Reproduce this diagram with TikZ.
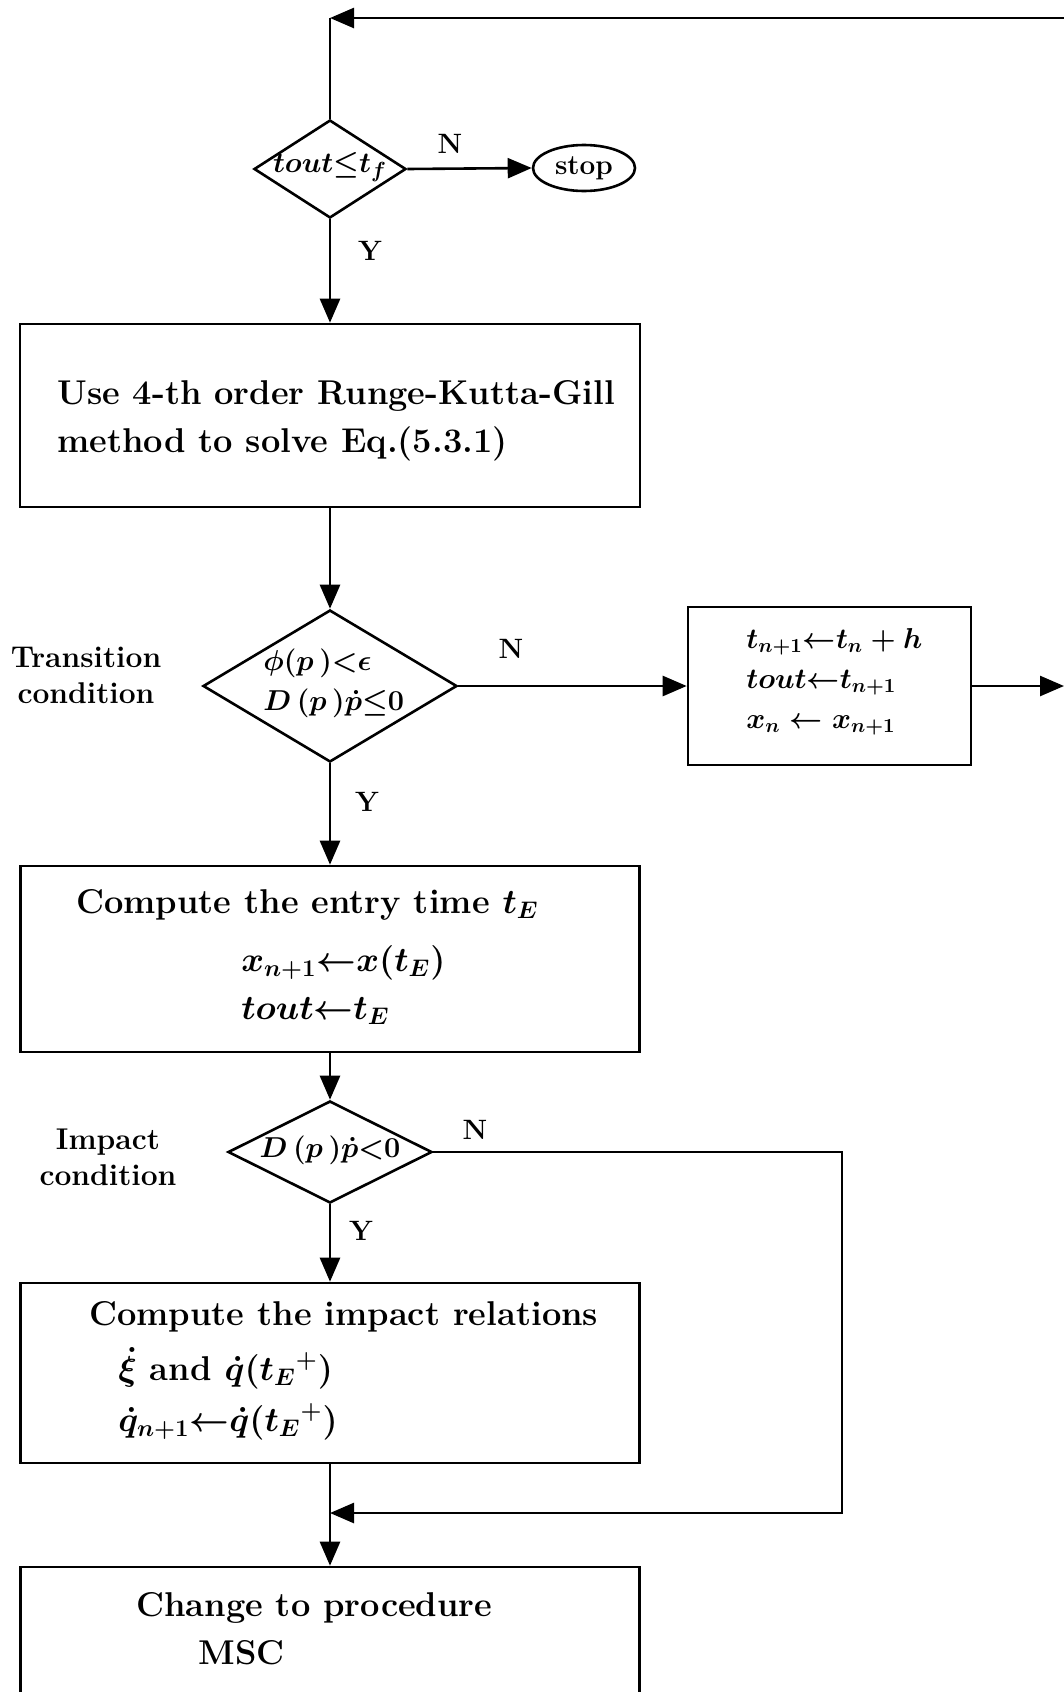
\documentclass[tikz,border=0pt]{standalone}
\usetikzlibrary{shapes.geometric,arrows.meta}
\begin{document}
\begin{tikzpicture}[x=0.5pt,y=-0.5pt,line width=1.3pt,
  box/.style={draw, rectangle, inner sep=0pt},
  dia/.style={draw, diamond, inner sep=0pt},
  arr/.style={-{Triangle[length=12pt,width=10pt]}},
  txt/.style={inner sep=0pt, font=\fontsize{17.2}{24}\selectfont\bfseries\boldmath},
  small/.style={inner sep=0pt, font=\fontsize{14}{20}\selectfont\bfseries\boldmath},
  dtxt/.style={inner sep=0pt, font=\fontsize{15.5}{18}\selectfont\bfseries\boldmath},
  lbl/.style={inner sep=0pt, font=\fontsize{14}{18}\selectfont\bfseries},
  side/.style={inner sep=0pt, font=\fontsize{15}{18}\selectfont\bfseries},
]
\useasboundingbox (0,0) rectangle (1064,1692);
\clip (0,0) rectangle (1064,1692);

% top decision
\node[dia, minimum width=76pt, minimum height=49pt] (d1) at (330,169) {};
\node[dtxt] (d1t) at (330,167) {$tout{\leq}t_f$};
\node[draw, ellipse, minimum width=51pt, minimum height=23pt, inner sep=0pt, lbl] (stop) at (584,168) {stop};
\node[lbl] (n1) at (450,144) {N};
\node[lbl] (y1) at (370,251) {Y};

% box 1
\node[box, minimum width=310pt, minimum height=91.5pt] (b1) at (330,415.5) {};
\node[txt, anchor=west, align=left] (b1t) at (56,421) {Use 4-th order Runge-Kutta-Gill\\method to solve Eq.(5.3.1)};

% transition decision
\node[dia, minimum width=127pt, minimum height=76pt] (d2) at (330,686) {};
\node[small, anchor=west, align=left] (d2t) at (262,683) {$\phi(p\,){<}\epsilon$\\$D\,(p\,)\dot p{\leq}0$};
\node[side, align=center] (tc) at (86,675) {Transition\\condition};
\node[lbl] (n2) at (511,649) {N};
\node[lbl] (y2) at (367,802) {Y};

% box 2
\node[box, minimum width=141.5pt, minimum height=79pt] (b2) at (829.5,686) {};
\node[small, anchor=west, align=left] (b2t) at (745,682) {$t_{n+1}{\leftarrow}t_n+h$\\$tout{\leftarrow}t_{n+1}$\\$x_n\leftarrow x_{n+1}$};

% box 3
\node[box, minimum width=309.5pt, minimum height=93pt] (b3) at (330,959) {};
\node[txt, anchor=west] (b3t) at (75,905) {Compute the entry time $t_E$};
\node[txt, anchor=west, align=left] (b3m) at (240,985) {$x_{n+1}{\leftarrow}x(t_E)$\\$tout{\leftarrow}t_E$};

% impact decision
\node[dia, minimum width=102pt, minimum height=51pt] (d3) at (330,1152) {};
\node[dtxt] (d3t) at (330,1150) {$D\,(p\,)\dot p{<}0$};
\node[side, align=center] (ic) at (108,1157) {Impact\\condition};
\node[lbl] (n3) at (475,1130) {N};
\node[lbl] (y3) at (361,1231) {Y};

% box 4
\node[box, minimum width=309.5pt, minimum height=90pt] (b4) at (330,1373) {};
\node[txt, anchor=west] (b4t) at (88,1317) {Compute the impact relations};
\node[inner sep=0pt, font=\fontsize{17.2}{25.5}\selectfont\bfseries\boldmath, anchor=west, align=left] (b4m) at (117,1394) {$\dot\xi$ and $\dot q(t_E{}^{+})$\\$\dot q_{n+1}{\leftarrow}\dot q(t_E{}^{+})$};

% box 5
\node[box, minimum width=309.5pt, minimum height=76.5pt] (b5) at (330,1643.5) {};
\node[txt, anchor=west] (b5t) at (135,1608) {Change to procedure};
\node[txt, anchor=west] (b5m) at (197,1653) {MSC};

% connectors
\coordinate (topR) at (1064,18);
\coordinate (corner) at (330,18);
\coordinate (outR) at (1064,686);
\coordinate (nr) at (842,1513);
\coordinate (join) at (330,1513);

\draw[arr] (topR) -- (corner);
\draw (corner) -- (d1.north);
\draw[arr] (d1.east) -- (stop.west);
\draw[arr] (d1.south) -- (b1.north);
\draw[arr] (b1.south) -- (d2.north);
\draw[arr] (d2.east) -- (b2.west);
\draw[arr] (b2.east) -- (outR);
\draw[arr] (d2.south) -- (b3.north);
\draw[arr] (b3.south) -- (d3.north);
\draw[arr] (d3.south) -- (b4.north);
\draw[arr] (d3.east) -| (nr) -- (join);
\draw[arr] (b4.south) -- (b5.north);
\end{tikzpicture}
\end{document}
